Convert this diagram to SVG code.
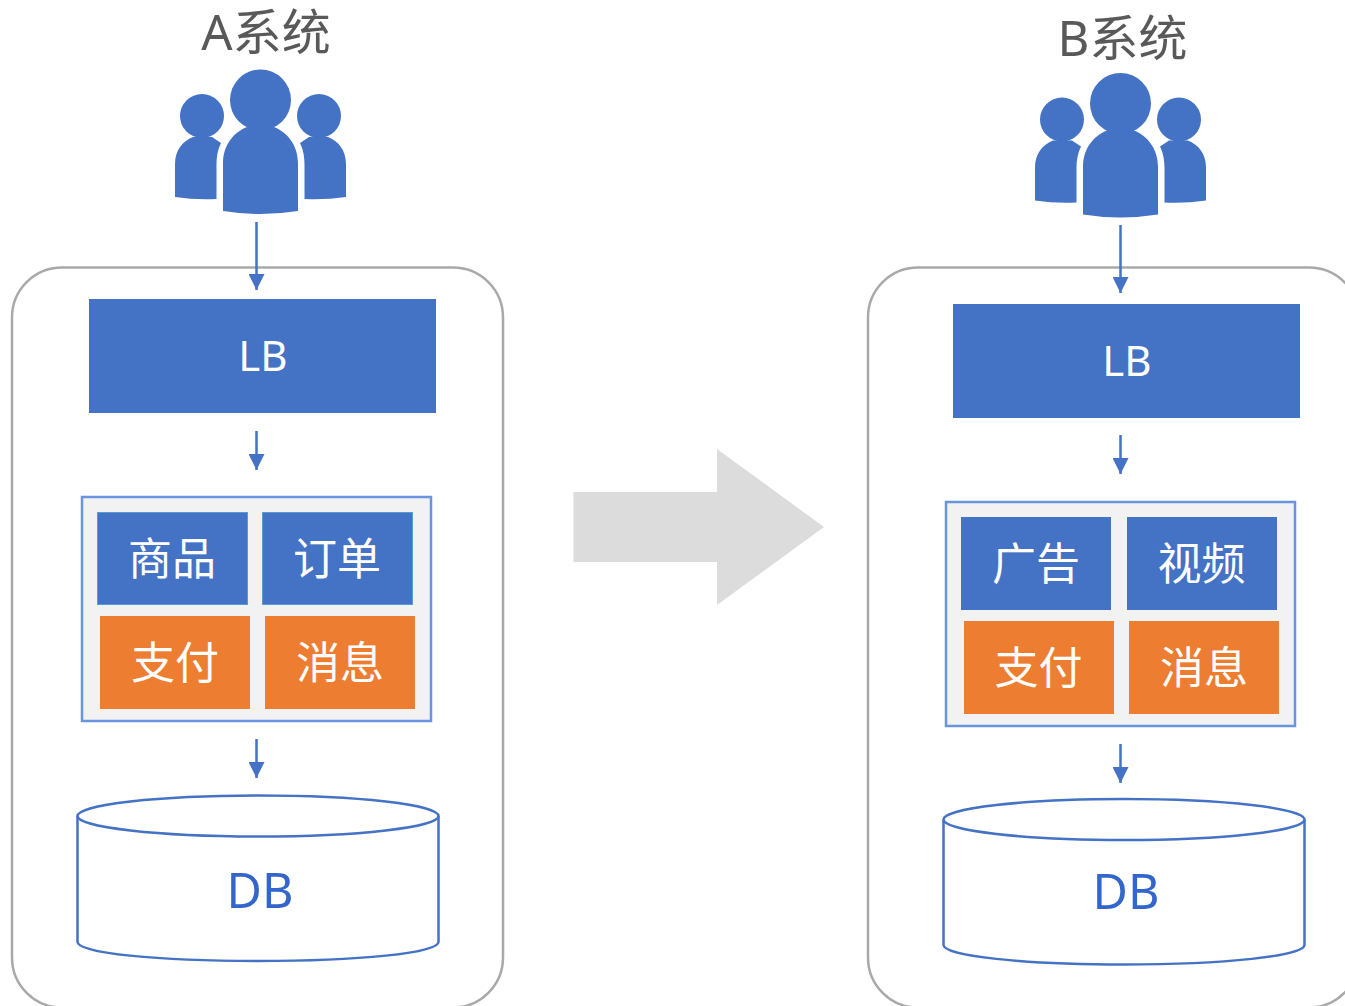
<svg xmlns="http://www.w3.org/2000/svg" width="1345" height="1006" viewBox="0 0 1345 1006">
<style>
text{font-family:"Noto Sans","Noto Sans CJK SC",sans-serif;text-anchor:middle}
.title{font-size:49px;fill:#595959}
.lbl{font-size:44px;fill:#fff}
.lb{font-size:42px;fill:#fff}
.db{font-size:48.500px;fill:#3366cc}
.outer{fill:#fff;stroke:#a9a9a9;stroke-width:2.5}
.blue{fill:#4472c4}
.cell{fill:#4472c4;stroke:#5b9bd5;stroke-width:1}
.orange{fill:#ed7d31}
.group{fill:#f2f2f2;stroke:#6a93e0;stroke-width:2.5}
.cyl{fill:#fff;stroke:#4472c4;stroke-width:2.5}
.conn{stroke:#4472c4;stroke-width:2.5;fill:none;marker-end:url(#ah)}
</style>
<defs>
<marker id="ah" markerUnits="userSpaceOnUse" markerWidth="16" markerHeight="16" refX="16" refY="8" orient="auto"><path d="M0 0L16 8L0 16Z" fill="#4472c4"/></marker>
<g id="people" fill="#4472c4">
<circle cx="260.500" cy="100" r="30.500"/>
<path d="M223 211V163C223 145 234 132 247 127Q260.500 131 274 127C287 132 298 145 298 163V211Q260 217 223 211Z"/>
<circle cx="202" cy="116" r="22"/>
<path d="M175 197V164C175 150 183 141 193 137Q202 136 212 137L221 143C217.500 150 216.500 157 216.500 165V199Q195 200 175 197Z"/>
<circle cx="319" cy="116" r="22"/>
<path d="M346 197V164C346 150 338 141 328 137Q319 136 309 137L300 143C303.500 150 304.500 157 304.500 165V199Q325 200 346 197Z"/>
</g>
</defs>
<g id="system-a-container"><rect class="outer" x="12" y="267.500" width="491" height="740" rx="50"/></g>
<g id="system-b-container"><rect class="outer" x="868" y="267.500" width="491" height="740" rx="50"/></g>
<g id="title-a"><text class="title" x="266" y="50">A系统</text></g>
<g id="title-b"><text class="title" x="1122.500" y="56">B系统</text></g>
<g id="users-a"><use href="#people"/></g>
<g id="users-b"><use href="#people" x="860" y="3.500"/></g>
<g id="lb-a"><rect class="blue" x="89" y="299" width="347" height="114"/><text class="lb" x="263" y="371">LB</text></g>
<g id="lb-b"><rect class="blue" x="953" y="304" width="347" height="114"/><text class="lb" x="1127" y="376">LB</text></g>
<g id="services-a"><rect class="group" x="82" y="497" width="349" height="224"/></g>
<g id="services-b"><rect class="group" x="946" y="502" width="349" height="224"/></g>
<g id="a-goods"><rect class="cell" x="97.500" y="512.500" width="150" height="92"/><text class="lbl" x="172" y="575">商品</text></g>
<g id="a-order"><rect class="cell" x="262.500" y="512.500" width="150" height="92"/><text class="lbl" x="337" y="575">订单</text></g>
<g id="a-pay"><rect class="orange" x="100" y="616" width="150" height="93"/><text class="lbl" x="175" y="679">支付</text></g>
<g id="a-msg"><rect class="orange" x="265" y="616" width="150" height="93"/><text class="lbl" x="340" y="679">消息</text></g>
<g id="b-ad"><rect class="blue" x="961" y="517" width="150" height="93"/><text class="lbl" x="1036" y="580">广告</text></g>
<g id="b-video"><rect class="blue" x="1127" y="517" width="150" height="93"/><text class="lbl" x="1201.500" y="580">视频</text></g>
<g id="b-pay"><rect class="orange" x="964" y="621" width="150" height="93"/><text class="lbl" x="1038.500" y="684">支付</text></g>
<g id="b-msg"><rect class="orange" x="1129" y="621" width="150" height="93"/><text class="lbl" x="1204" y="684">消息</text></g>
<g id="db-a"><path class="cyl" d="M77.500 816V942C77.500 953 158 961 258 961S438.500 953 438.500 942V816"/><ellipse class="cyl" cx="258" cy="816" rx="180.500" ry="20.500"/><text class="db" x="260" y="907.500">DB</text></g>
<g id="db-b"><path class="cyl" d="M943.500 819.500V945C943.500 956 1024 964.500 1124 964.500S1304.500 956 1304.500 945V819.500"/><ellipse class="cyl" cx="1124" cy="819.500" rx="180.500" ry="20.500"/><text class="db" x="1126" y="908.500">DB</text></g>
<g id="transition-arrow"><path d="M573.500 492H717V449L824 527L717 605V562H573.500Z" fill="#dcdcdc"/></g>
<g id="connectors">
<path class="conn" d="M256.500 222V290"/>
<path class="conn" d="M256.500 431V470"/>
<path class="conn" d="M256.500 739V778"/>
<path class="conn" d="M1120.500 225V293"/>
<path class="conn" d="M1120.500 435V474"/>
<path class="conn" d="M1120.500 744V783"/>
</g>
</svg>
